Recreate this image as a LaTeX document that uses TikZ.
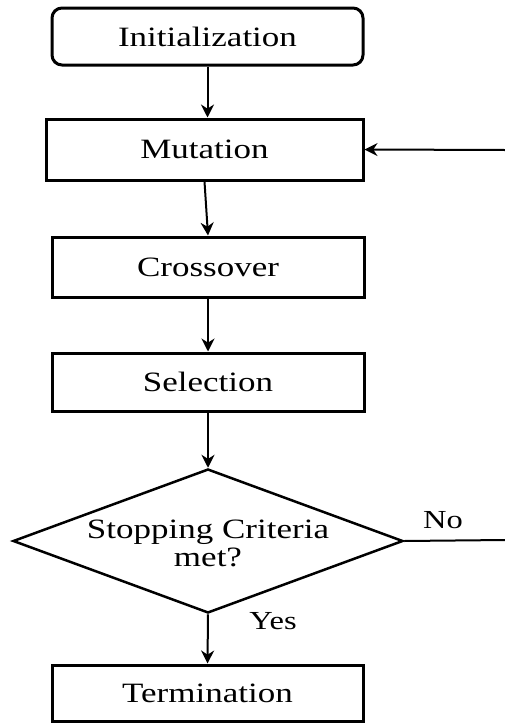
\documentclass[tikz,border=0pt]{standalone}
\usepackage{fontspec}
\setmainfont{Liberation Serif}
\usepackage{graphicx}
\usetikzlibrary{arrows.meta,shapes.geometric}
\newcommand{\wtx}[1]{\scalebox{1.25}[1]{#1}}
\tikzset{
  box/.style={draw, line width=3pt, rectangle, inner sep=0pt, font=\fontsize{28}{29}\selectfont},
  arr/.style={line width=2pt, -{Stealth[length=13pt,width=13pt]}},
  lbl/.style={inner sep=0pt, font=\fontsize{26}{27}\selectfont},
}
\begin{document}
\begin{tikzpicture}[x=1pt,y=-1pt]
\useasboundingbox (0,0) rectangle (505,723);
\node[box, rounded corners=10pt, minimum width=311pt, minimum height=57pt] (init) at (207.5,36.5) {\wtx{Initialization}};
\node[box, minimum width=317pt, minimum height=61pt] (mut) at (204.5,149.5) {\wtx{Mutation}};
\node[box, minimum width=312pt, minimum height=60pt] (cross) at (208,267) {\wtx{Crossover}};
\node[box, minimum width=312pt, minimum height=58pt] (sel) at (208,382) {\wtx{Selection}};
\node[draw, line width=2.5pt, diamond, inner sep=0pt, minimum width=390pt, minimum height=144pt, shape aspect=2.7] (stop) at (208,541) {};
\node[font=\fontsize{28}{28}\selectfont, align=center, inner sep=0pt] (stoptxt) at (208,543) {\wtx{Stopping Criteria}\\\wtx{met?}};
\node[box, minimum width=311pt, minimum height=56pt] (term) at (207.5,693) {\wtx{Termination}};
\coordinate (fb) at (505,150);
\coordinate (noend) at (505,540);
\node[lbl] (no) at (443,520) {\wtx{No}};
\node[lbl] (yes) at (273,621) {\wtx{Yes}};
\draw[arr] (init.south) -- (init.south |- mut.north);
\draw[arr] (mut.south) -- (cross.north);
\draw[arr] (cross.south) -- (sel.north);
\draw[arr] (sel.south) -- (stop.north);
\draw[arr] (stop.south) -- (term.north);
\draw[arr] (fb) -- (mut.east);
\draw[line width=2pt] (stop.east) -- (noend);
\end{tikzpicture}
\end{document}
